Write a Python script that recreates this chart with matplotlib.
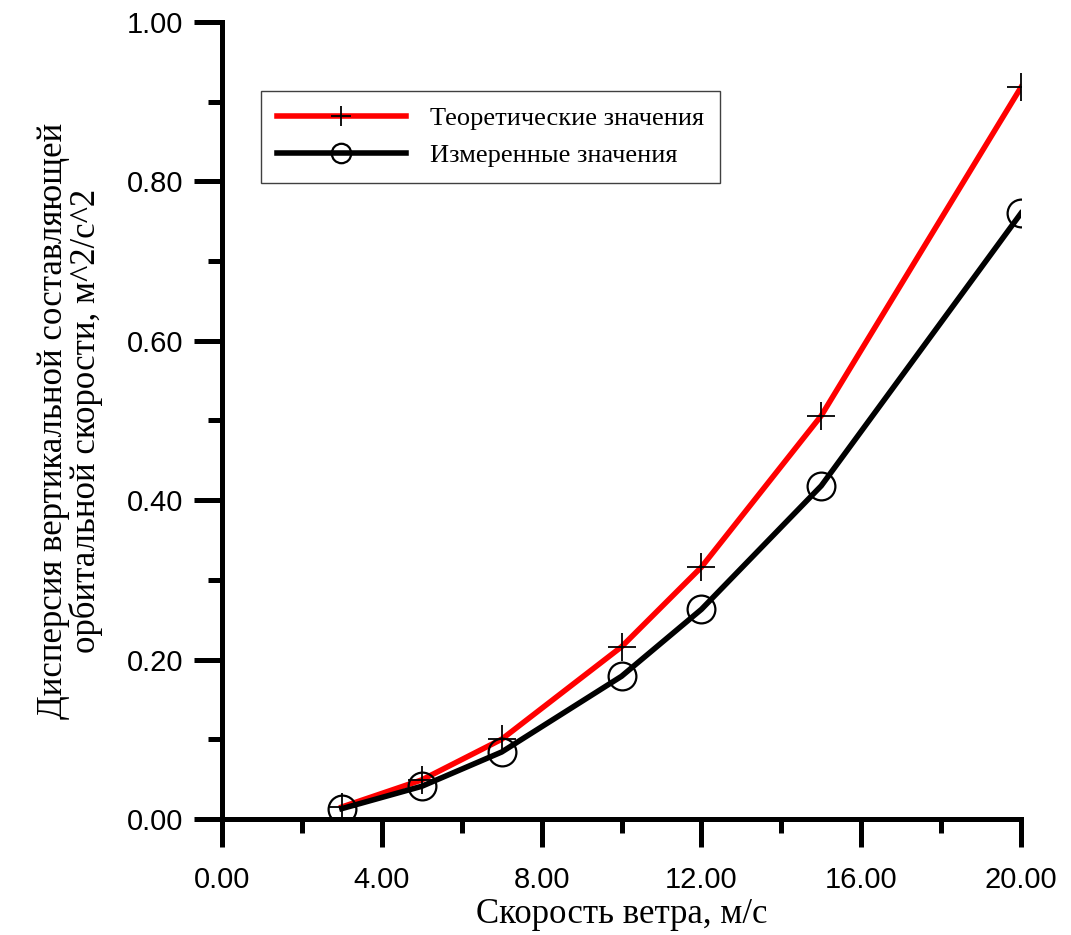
import numpy as np
import matplotlib.pyplot as plt
from matplotlib.ticker import MultipleLocator, FormatStrFormatter

# wind speed, m/s
wind = [3, 5, 7, 10, 12, 15, 20]
# variance of vertical orbital velocity, m^2/s^2
theory = [0.015, 0.049, 0.100, 0.216, 0.316, 0.506, 0.918]
measured = [0.013, 0.041, 0.084, 0.179, 0.263, 0.418, 0.760]

plt.rcParams['font.size'] = 20

fig = plt.figure(figsize=(10.71, 9.35), dpi=100)
ax = fig.add_axes([0.2073, 0.1241, 0.7460, 0.8524])

ax.plot(wind, theory, color='red', lw=4.0, marker='+', ms=20, mew=1.3,
        mec='black', label='Теоретические значения', zorder=3)
ax.plot(wind, measured, color='black', lw=4.0, marker='o', ms=20, mew=1.6,
        mfc='none', mec='black', label='Измеренные значения', zorder=4)

ax.set_xlim(0, 20)
ax.set_ylim(0, 1)
ax.xaxis.set_major_locator(MultipleLocator(4))
ax.xaxis.set_minor_locator(MultipleLocator(2))
ax.yaxis.set_major_locator(MultipleLocator(0.2))
ax.yaxis.set_minor_locator(MultipleLocator(0.1))
ax.xaxis.set_major_formatter(FormatStrFormatter('%.2f'))
ax.yaxis.set_major_formatter(FormatStrFormatter('%.2f'))

for s in ['top', 'right']:
    ax.spines[s].set_visible(False)
for s in ['left', 'bottom']:
    ax.spines[s].set_linewidth(3.6)
ax.tick_params(which='major', direction='out', length=20, width=3.6, labelsize=21)
ax.tick_params(which='minor', direction='out', length=10, width=3.6)
ax.tick_params(axis='x', which='major', pad=14)
ax.tick_params(axis='y', which='major', pad=8)
for lab in ax.get_xticklabels() + ax.get_yticklabels():
    lab.set_family('Liberation Sans')

ax.set_xlabel('Скорость ветра, м/с', family='Liberation Serif', fontsize=25, labelpad=3)
ax.set_ylabel('Дисперсия вертикальной составляющей\nорбитальной скорости, м^2/с^2',
              family='Liberation Serif', fontsize=25, labelpad=17, linespacing=0.95)

leg = ax.legend(loc='upper left', bbox_to_anchor=(0.0488, 0.9134), borderaxespad=0,
                prop={'family': 'Liberation Serif', 'size': 19}, fancybox=False,
                handlelength=4.9, handletextpad=0.9, borderpad=0.6, labelspacing=0.5,
                markerscale=0.7, framealpha=1)
leg.get_frame().set_edgecolor('#404040')
leg.get_frame().set_linewidth(1.0)

plt.savefig('out.png', dpi=100)
